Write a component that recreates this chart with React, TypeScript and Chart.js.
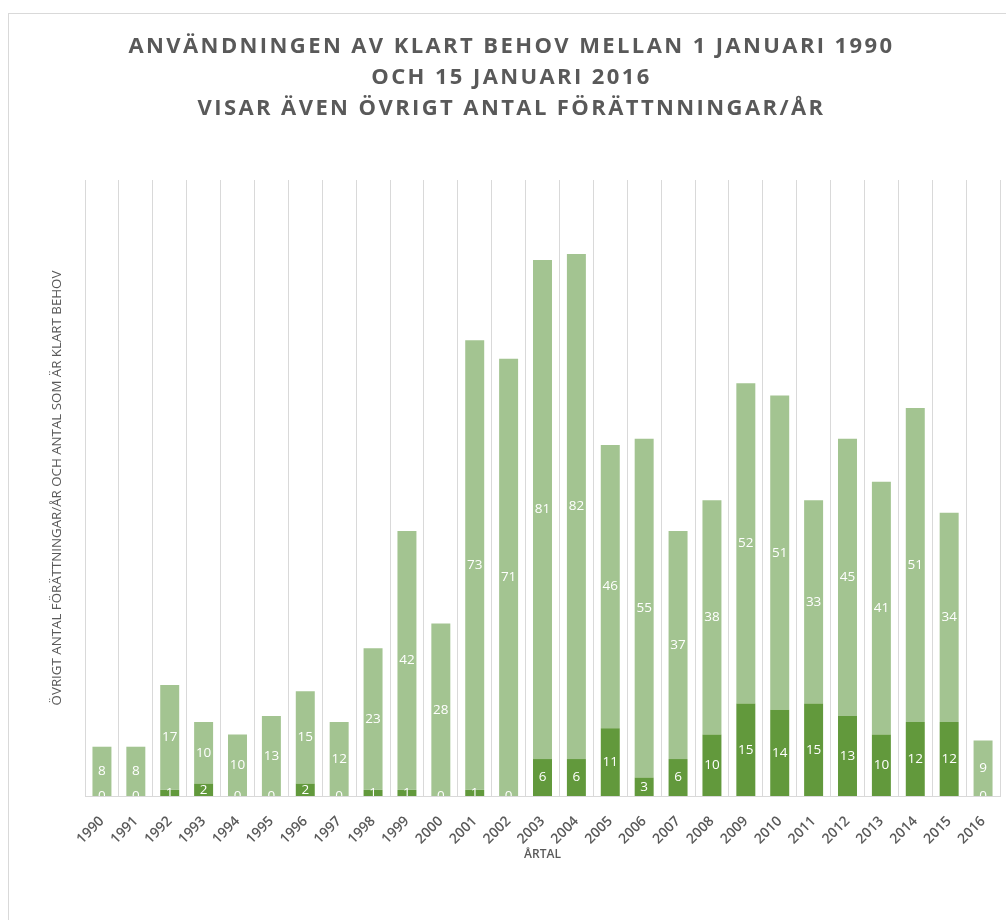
import React, { useEffect, useRef } from "react";
import { Chart, registerables } from "chart.js";

Chart.register(...registerables);

const years = [
  "1990", "1991", "1992", "1993", "1994", "1995", "1996", "1997", "1998", "1999",
  "2000", "2001", "2002", "2003", "2004", "2005", "2006", "2007", "2008", "2009",
  "2010", "2011", "2012", "2013", "2014", "2015", "2016",
];
const klartBehov = [0, 0, 1, 2, 0, 0, 2, 0, 1, 1, 0, 1, 0, 6, 6, 11, 3, 6, 10, 15, 14, 15, 13, 10, 12, 12, 0];
const ovrigt = [8, 8, 17, 10, 10, 13, 15, 12, 23, 42, 28, 73, 71, 81, 82, 46, 55, 37, 38, 52, 51, 33, 45, 41, 51, 34, 9];

const titleLines = [
  "ANVÄNDNINGEN AV KLART BEHOV MELLAN 1 JANUARI 1990",
  "OCH 15 JANUARI 2016",
  "VISAR ÄVEN ÖVRIGT ANTAL FÖRÄTTNNINGAR/ÅR",
];
const yTitle = "ÖVRIGT ANTAL FÖRÄTTNINGAR/ÅR OCH ANTAL SOM ÄR KLART BEHOV";
const xTitle = "ÅRTAL";

const DARK = "#62993C";
const LIGHT = "#A3C491";
const GRAY = "#595959";
const GRID = "#D9D9D9";
const FONT = '"Open Sans", "Liberation Sans", sans-serif';

const CW = 997;
const CH = 905;

const labelPlugin = {
  id: "barLabels",
  afterDatasetsDraw(chart: any) {
    const { ctx, chartArea } = chart;
    ctx.save();
    ctx.beginPath();
    ctx.rect(chartArea.left, chartArea.top, chartArea.right - chartArea.left, chartArea.bottom - chartArea.top);
    ctx.clip();
    ctx.fillStyle = "#ffffff";
    ctx.font = '13.5px "Open Sans", "Liberation Sans", sans-serif';
    ctx.textAlign = "center";
    ctx.textBaseline = "middle";
    chart.data.datasets.forEach((ds: any, i: number) => {
      const meta = chart.getDatasetMeta(i);
      meta.data.forEach((el: any, j: number) => {
        const { x, y, base } = el.getProps(["x", "y", "base"], true);
        ctx.fillText(String(ds.data[j]), x, (y + base) / 2);
      });
    });
    ctx.restore();
  },
};

export default function App() {
  const ref = useRef<HTMLCanvasElement | null>(null);

  useEffect(() => {
    document.documentElement.style.overflow = "hidden";
    if (!ref.current) return;
    const chart = new Chart(ref.current, {
      type: "bar",
      data: {
        labels: years,
        datasets: [
          {
            label: "Klart behov",
            data: klartBehov,
            backgroundColor: DARK,
            categoryPercentage: 1,
            barPercentage: 0.56,
          },
          {
            label: "Övrigt",
            data: ovrigt,
            backgroundColor: LIGHT,
            categoryPercentage: 1,
            barPercentage: 0.56,
          },
        ],
      },
      options: {
        responsive: false,
        animation: false,
        events: [],
        layout: { padding: { top: 166, right: 6, left: 0, bottom: 0 } },
        plugins: {
          legend: { display: false },
          tooltip: { enabled: false },
          title: { display: false },
        },
        scales: {
          x: {
            stacked: true,
            offset: true,
            grid: { display: true, color: GRID, offset: true, drawTicks: false, lineWidth: 1 },
            border: { display: true, color: GRID },
            ticks: {
              color: GRAY,
              font: { family: FONT, size: 14, weight: "600" },
              minRotation: 45,
              maxRotation: 45,
              padding: 17,
              autoSkip: false,
            },
            title: {
              display: true,
              text: xTitle,
              color: GRAY,
              font: { family: FONT, size: 12, weight: "600" },
              padding: { top: 0, bottom: 57 },
            },
            afterFit: (scale: any) => {
              scale.height = 123;
              scale.paddingRight = 0;
              scale.paddingLeft = 0;
            },
          },
          y: {
            stacked: true,
            min: 0,
            max: 100,
            grid: { display: false },
            border: { display: false },
            ticks: { display: false },
            title: {
              display: true,
              text: yTitle,
              color: GRAY,
              font: { family: FONT, size: 13.3, weight: "normal" },
              padding: { top: 40, bottom: 0 },
            },
            afterFit: (scale: any) => {
              scale.width = 76;
              scale.paddingTop = 0;
              scale.paddingBottom = 0;
            },
          },
        },
      },
      plugins: [labelPlugin],
    } as any);
    return () => chart.destroy();
  }, []);

  return (
    <div
      style={{
        position: "absolute",
        left: 8,
        top: 13,
        width: 1010,
        height: 920,
        border: `1px solid ${GRID}`,
        boxSizing: "border-box",
        background: "#fff",
      }}
    >
      <canvas
        ref={ref}
        width={CW}
        height={CH}
        style={{ position: "absolute", left: 0, top: 0, width: CW, height: CH }}
      />
      <div
        style={{
          position: "absolute",
          left: 0,
          top: 15,
          width: 1005,
          textAlign: "center",
          fontFamily: FONT,
          fontWeight: 700,
          fontSize: 22,
          lineHeight: "31px",
          letterSpacing: "2.4px",
          color: GRAY,
        }}
      >
        {titleLines.map((t) => (
          <div key={t}>{t}</div>
        ))}
      </div>
    </div>
  );
}
